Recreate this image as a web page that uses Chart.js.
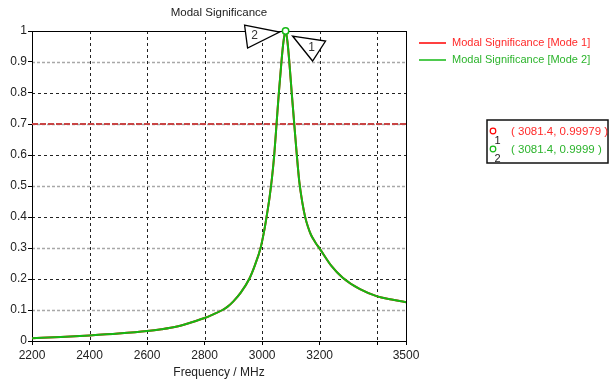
<!DOCTYPE html>
<html>
<head>
<meta charset="utf-8">
<script src="https://cdn.jsdelivr.net/npm/chart.js@4.4.0/dist/chart.umd.min.js"></script>
<style>
html, body { margin: 0; padding: 0; background: #fff; }
#wrap { width: 614px; height: 383px; }
</style>
</head>
<body>
<div id="wrap"><canvas id="myChart" width="614" height="383"></canvas></div>
<script>
// values
let freq  = [2200, 2300, 2400, 2500, 2600, 2650, 2700, 2750, 2800, 2830, 2862, 2880, 2900, 2925, 2955, 2975, 2995, 3008, 3017, 3026, 3034, 3042, 3050, 3058, 3067, 3074, 3081.4, 3088, 3094, 3103, 3112, 3120, 3129, 3140, 3150, 3160, 3170, 3185, 3200, 3240, 3280, 3340, 3400, 3450, 3500];
let mode2 = [0.009, 0.013, 0.018, 0.024, 0.032, 0.038, 0.046, 0.059, 0.074, 0.086, 0.100, 0.111, 0.128, 0.155, 0.200, 0.245, 0.302, 0.360, 0.410, 0.465, 0.525, 0.600, 0.700, 0.800, 0.900, 0.965, 0.9999, 0.965, 0.905, 0.798, 0.695, 0.605, 0.515, 0.445, 0.398, 0.366, 0.342, 0.318, 0.298, 0.243, 0.204, 0.167, 0.144, 0.134, 0.125];
let mode1 = [0.009, 0.013, 0.018, 0.024, 0.032, 0.038, 0.046, 0.059, 0.074, 0.086, 0.100, 0.111, 0.128, 0.155, 0.200, 0.245, 0.302, 0.360, 0.410, 0.465, 0.525, 0.600, 0.700, 0.800, 0.900, 0.965, 0.99979, 0.965, 0.905, 0.798, 0.695, 0.605, 0.515, 0.445, 0.398, 0.366, 0.342, 0.318, 0.298, 0.243, 0.204, 0.167, 0.144, 0.134, 0.125];
let threshold = 0.7;
let seriesNames = ['Modal Significance [Mode 1]', 'Modal Significance [Mode 2]'];
let xTicks  = [2200, 2400, 2600, 2800, 3000, 3200, 3400, 3500];
let xLabels = ['2200', '2400', '2600', '2800', '3000', '3200', '', '3500'];
let yTicks  = [0, 0.1, 0.2, 0.3, 0.4, 0.5, 0.6, 0.7, 0.8, 0.9, 1];
let yLabels = ['0', '0.1', '0.2', '0.3', '0.4', '0.5', '0.6', '0.7', '0.8', '0.9', '1'];
let markerFreq  = [3081.4, 3081.4];
let markerValue = [0.99979, 0.9999];

const RED = '#ff0000';
const GREEN = '#14b814';
const FONT = '"Liberation Sans", Arial, sans-serif';

function pts(vals) {
    return freq.map((f, i) => ({ x: f, y: vals[i] }));
}

// dashed grid + frame, drawn under the curves
const gridPlugin = {
    id: 'cstGrid',
    beforeDatasetsDraw(chart) {
        const ctx = chart.ctx, a = chart.chartArea;
        const xs = chart.scales.x, ys = chart.scales.y;
        ctx.save();
        yTicks.forEach((v, i) => {
            if (v === 0 || v === 1) return;
            const y = Math.round(ys.getPixelForValue(v)) + 0.5;
            if (i % 2 === 1) {
                ctx.strokeStyle = '#a8a8a8'; ctx.lineWidth = 1.5; ctx.setLineDash([3, 2]);
            } else {
                ctx.strokeStyle = '#222'; ctx.lineWidth = 1; ctx.setLineDash([3, 3]);
            }
            ctx.beginPath(); ctx.moveTo(a.left, y); ctx.lineTo(a.right, y); ctx.stroke();
        });
        ctx.strokeStyle = '#222'; ctx.lineWidth = 1; ctx.setLineDash([3, 3]);
        xTicks.forEach(v => {
            if (v === 2200 || v === 3500) return;
            const x = Math.round(xs.getPixelForValue(v)) + 0.5;
            ctx.beginPath(); ctx.moveTo(x, a.top); ctx.lineTo(x, a.bottom); ctx.stroke();
        });
        ctx.setLineDash([]);
        ctx.strokeStyle = '#000';
        ctx.strokeRect(Math.round(a.left) + 0.5, Math.round(a.top) + 0.5, Math.round(a.right - a.left), Math.round(a.bottom - a.top));
        ctx.restore();
    }
};

// title, legend, marker labels and marker box
const decoPlugin = {
    id: 'cstDeco',
    afterDraw(chart) {
        const ctx = chart.ctx, a = chart.chartArea;
        const xs = chart.scales.x, ys = chart.scales.y;
        ctx.save();
        ctx.textBaseline = 'middle';

        ctx.fillStyle = '#222';
        ctx.font = '11.5px ' + FONT;
        ctx.textAlign = 'center';
        ctx.fillText('Modal Significance', (a.left + a.right) / 2, 13);

        // marker flags at the peak
        const px = xs.getPixelForValue(markerFreq[1]);
        const py = ys.getPixelForValue(markerValue[1]);
        ctx.lineWidth = 1.3; ctx.strokeStyle = '#000'; ctx.fillStyle = '#fff';
        ctx.beginPath(); ctx.moveTo(px - 41, py - 6); ctx.lineTo(px - 6, py + 1); ctx.lineTo(px - 38, py + 17); ctx.closePath();
        ctx.fill(); ctx.stroke();
        ctx.beginPath(); ctx.moveTo(px + 7, py + 5); ctx.lineTo(px + 40, py + 10); ctx.lineTo(px + 27, py + 30); ctx.closePath();
        ctx.fill(); ctx.stroke();
        ctx.fillStyle = '#333';
        ctx.font = '12px ' + FONT;
        ctx.fillText('2', px - 31, py + 5);
        ctx.fillText('1', px + 26, py + 17);

        // peak marker circle
        ctx.strokeStyle = GREEN; ctx.lineWidth = 1.5; ctx.fillStyle = '#fff';
        ctx.beginPath(); ctx.arc(px, py, 3.2, 0, Math.PI * 2); ctx.fill(); ctx.stroke();

        // legend
        const colors = [RED, GREEN];
        const textColors = ['#ff2a2a', '#2cb42c'];
        ctx.font = '11px ' + FONT;
        ctx.textAlign = 'left';
        seriesNames.forEach((n, i) => {
            const y = 43 + i * 17;
            ctx.strokeStyle = colors[i]; ctx.lineWidth = 1.5;
            ctx.beginPath(); ctx.moveTo(a.right + 13, y); ctx.lineTo(a.right + 40, y); ctx.stroke();
            ctx.fillStyle = textColors[i];
            ctx.fillText(n, a.right + 46, y);
        });

        // marker box
        const bx = a.right + 81, by = 120;
        ctx.strokeStyle = '#111'; ctx.lineWidth = 1.5;
        ctx.strokeRect(bx, by, 121, 43);
        markerFreq.forEach((f, i) => {
            const y = 131.5 + i * 18;
            ctx.strokeStyle = colors[i]; ctx.lineWidth = 1.2;
            ctx.beginPath(); ctx.arc(bx + 6, y - 0.5, 2.8, 0, Math.PI * 2); ctx.stroke();
            ctx.fillStyle = '#222';
            ctx.font = '11px ' + FONT;
            ctx.fillText(String(i + 1), bx + 7.5, y + 9);
            ctx.fillStyle = textColors[i];
            ctx.font = '11.5px ' + FONT;
            ctx.fillText('( ' + f + ', ' + markerValue[i] + ' )', bx + 24, y);
        });
        ctx.restore();
    }
};

var ctx = document.getElementById('myChart').getContext('2d');
var chart = new Chart(ctx, {
    type: 'line',
    data: {
        datasets: [
            {
                label: seriesNames[1], data: pts(mode2), order: 0,
                borderColor: GREEN, borderWidth: 2, fill: false,
                cubicInterpolationMode: 'monotone',
                pointRadius: 0, pointHoverRadius: 0
            },
            {
                label: seriesNames[0], data: pts(mode1), order: 1,
                borderColor: RED, borderWidth: 2, fill: false,
                cubicInterpolationMode: 'monotone',
                pointRadius: 0, pointHoverRadius: 0
            },
            {
                label: 'threshold', data: [{ x: freq[0], y: threshold }, { x: freq[freq.length - 1], y: threshold }], order: 2,
                borderColor: '#c84444', borderWidth: 2, borderDash: [6, 2], fill: false,
                pointRadius: 0, pointHoverRadius: 0
            }
        ]
    },
    options: {
        responsive: false,
        animation: false,
        devicePixelRatio: 1,
        layout: { padding: { top: 31, right: 208, left: 0, bottom: 0 } },
        plugins: { legend: { display: false }, title: { display: false }, tooltip: { enabled: false } },
        scales: {
            x: {
                type: 'linear', min: 2200, max: 3500,
                afterBuildTicks: s => { s.ticks = xTicks.map(v => ({ value: v })); },
                afterFit: s => { s.height = 42; },
                ticks: {
                    autoSkip: false, maxRotation: 0, padding: 3, color: '#222',
                    font: { family: FONT, size: 12 },
                    callback: (v, i) => xLabels[i]
                },
                grid: { drawOnChartArea: false, drawTicks: true, tickLength: 4, tickColor: '#000', tickWidth: 1 },
                border: { display: true, color: '#000', width: 1 },
                title: { display: true, text: 'Frequency / MHz', color: '#222', font: { family: FONT, size: 12 }, padding: { top: 0, bottom: 3 } }
            },
            y: {
                type: 'linear', min: 0, max: 1,
                afterBuildTicks: s => { s.ticks = yTicks.map(v => ({ value: v })); },
                afterFit: s => { s.width = 32; },
                ticks: {
                    padding: 1, color: '#222',
                    font: { family: FONT, size: 12 },
                    callback: (v, i) => yLabels[i]
                },
                grid: { drawOnChartArea: false, drawTicks: true, tickLength: 4, tickColor: '#000', tickWidth: 1 },
                border: { display: true, color: '#000', width: 1 }
            }
        }
    },
    plugins: [gridPlugin, decoPlugin]
});
</script>
</body>
</html>
